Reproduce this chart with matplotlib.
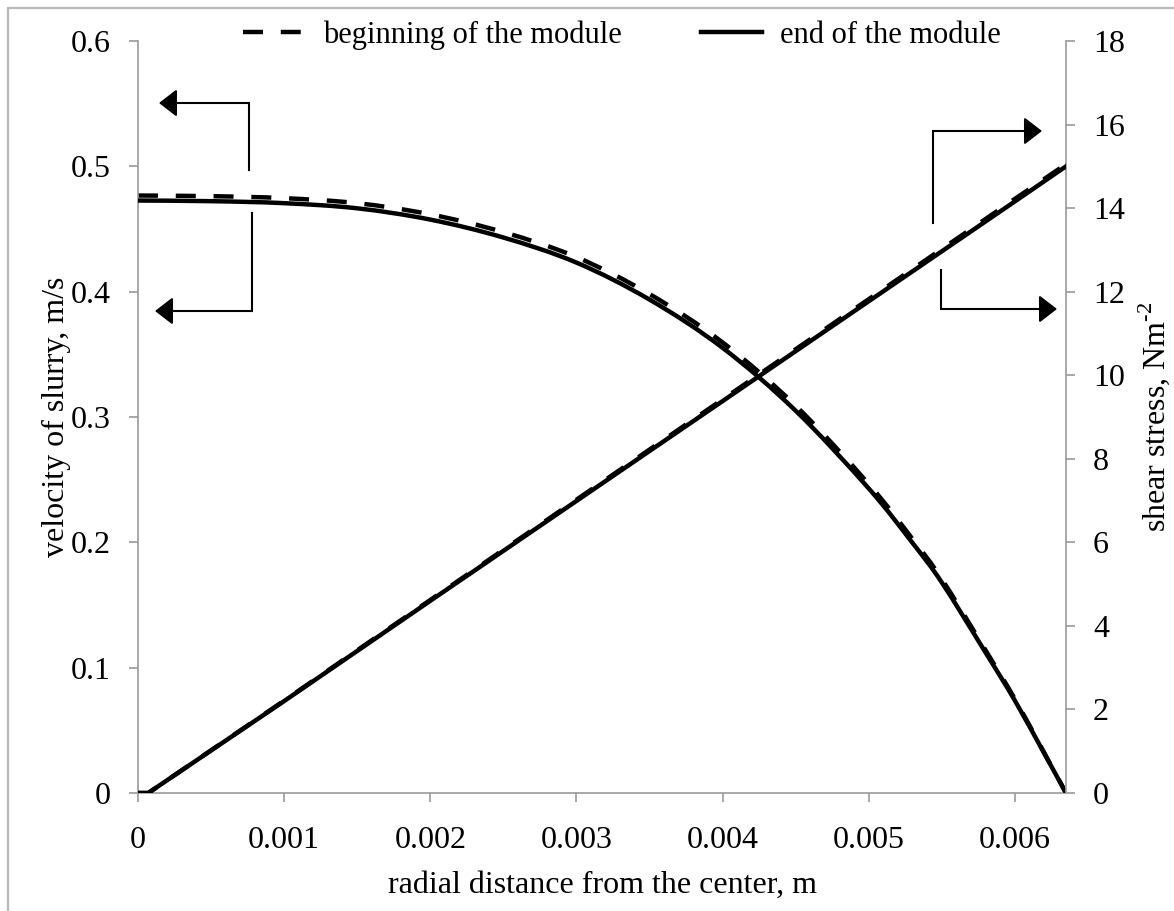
import matplotlib
matplotlib.use("Agg")
import matplotlib.pyplot as plt
from matplotlib.lines import Line2D
from matplotlib.patches import Rectangle, PathPatch
from matplotlib.path import Path

plt.rcParams['font.family'] = ['Liberation Serif', 'DejaVu Serif']
plt.rcParams['mathtext.fontset'] = 'custom'
plt.rcParams['mathtext.rm'] = 'Liberation Serif'

# ---- data ----------------------------------------------------------------
r_vel = [0, 0.0005, 0.001, 0.0015, 0.002, 0.0025, 0.003, 0.0035, 0.004,
         0.0045, 0.005, 0.0053, 0.0055, 0.0058, 0.006, 0.0062, 0.00635]
vel_begin = [0.4767, 0.4762, 0.4746, 0.4706, 0.4617, 0.4475, 0.4276, 0.3981,
             0.3595, 0.3090, 0.2465, 0.2026, 0.1707, 0.1138, 0.0750, 0.0323, 0.0]
vel_end = [0.4727, 0.4722, 0.4706, 0.4665, 0.4575, 0.4432, 0.4232, 0.3937,
           0.3552, 0.3050, 0.2430, 0.1995, 0.1680, 0.1120, 0.0738, 0.0318, 0.0]

r_tau = [0, 0.00007, 0.001, 0.002, 0.003, 0.004, 0.005, 0.006, 0.00635]
tau_begin = [0, 0, 2.21, 4.62, 7.02, 9.42, 11.82, 14.22, 15.05]
tau_end = [0, 0, 2.20, 4.60, 6.99, 9.38, 11.77, 14.16, 15.00]

x_ticks = [0, 0.001, 0.002, 0.003, 0.004, 0.005, 0.006]
x_tick_labels = ['0', '0.001', '0.002', '0.003', '0.004', '0.005', '0.006']
vel_ticks = [0, 0.1, 0.2, 0.3, 0.4, 0.5, 0.6]
vel_tick_labels = ['0', '0.1', '0.2', '0.3', '0.4', '0.5', '0.6']
tau_ticks = [0, 2, 4, 6, 8, 10, 12, 14, 16, 18]

legend_labels = ['beginning of the module', 'end of the module']


def smooth_path(xs, ys):
    """Smoothed line through the points (Catmull-Rom as cubic Beziers)."""
    pts = list(zip(xs, ys))
    n = len(pts)
    verts = [pts[0]]
    codes = [Path.MOVETO]
    for i in range(n - 1):
        p0 = pts[i - 1] if i > 0 else pts[i]
        p1, p2 = pts[i], pts[i + 1]
        p3 = pts[i + 2] if i + 2 < n else pts[i + 1]
        c1 = (p1[0] + (p2[0] - p0[0]) / 6, p1[1] + (p2[1] - p0[1]) / 6)
        c2 = (p2[0] - (p3[0] - p1[0]) / 6, p2[1] - (p3[1] - p1[1]) / 6)
        verts += [c1, c2, p2]
        codes += [Path.CURVE4] * 3
    return Path(verts, codes)


# ---- figure ----------------------------------------------------------------
W, H = 1174, 911
fig = plt.figure(figsize=(W / 100, H / 100), dpi=100)

# light grey frame around the chart area
fig.add_artist(Rectangle((8 / W, -0.01), 1.02, 1 - 8 / H + 0.01,
                         transform=fig.transFigure, fill=False,
                         edgecolor='#b8b8b8', linewidth=1.6))

L, R, T, B = 138, 1066, 41, 793
ax = fig.add_axes([L / W, 1 - B / H, (R - L) / W, (B - T) / H])
ax2 = ax.twinx()

axis_grey = '#9a9a9a'
FS = 23

lw = 3.2
dash = (4.5, 4.0)

# velocity profiles (left axis)
ax.add_patch(PathPatch(smooth_path(r_vel, vel_begin), fill=False,
                       edgecolor='black', lw=lw, linestyle=(0, dash),
                       capstyle='butt', zorder=2))
ax.add_patch(PathPatch(smooth_path(r_vel, vel_end), fill=False,
                       edgecolor='black', lw=lw, zorder=3))

# shear stress (right axis)
ax2.plot(r_tau, tau_begin, color='black', lw=lw, dashes=dash, zorder=2)
ax2.plot(r_tau, tau_end, color='black', lw=lw, zorder=3)

ax.set_xlim(0, 0.00635)
ax.set_ylim(0, 0.6)
ax2.set_ylim(0, 18)

ax.set_xticks(x_ticks)
ax.set_xticklabels(x_tick_labels)
ax.set_yticks(vel_ticks)
ax.set_yticklabels(vel_tick_labels)
ax2.set_yticks(tau_ticks)
ax2.set_yticklabels([str(t) for t in tau_ticks])

for a in (ax, ax2):
    a.spines['top'].set_visible(False)
    a.set_facecolor('none')
ax.spines['right'].set_visible(False)
ax2.spines['left'].set_visible(False)
ax2.spines['bottom'].set_visible(False)
for s in ('left', 'bottom'):
    ax.spines[s].set_color(axis_grey)
    ax.spines[s].set_linewidth(1.2)
ax2.spines['right'].set_color(axis_grey)
ax2.spines['right'].set_linewidth(1.2)

tick_kw = dict(direction='out', length=6.5, width=1.2, color=axis_grey,
               labelcolor='black', labelsize=FS)
ax.tick_params(axis='y', pad=13, **tick_kw)
ax.tick_params(axis='x', pad=17, **tick_kw)
ax2.tick_params(axis='y', pad=13, **tick_kw)

ax.set_xlabel('radial distance from the center, m', fontsize=FS, labelpad=12)
ax.set_ylabel('velocity of slurry, m/s', fontsize=FS, labelpad=0)
ax2.set_ylabel(r'shear stress, Nm$^{\text{-2}}$', fontsize=FS, labelpad=8)

handles = [Line2D([], [], color='black', lw=lw, dashes=dash),
           Line2D([], [], color='black', lw=lw)]
ax.legend(handles, legend_labels, loc='center', ncol=2,
          bbox_to_anchor=(0.530, 1 - 35 / H), bbox_transform=fig.transFigure,
          frameon=False, fontsize=22, handlelength=2.0, handletextpad=0.6,
          columnspacing=2.6, borderpad=0, borderaxespad=0)


# ---- bent pointer arrows that tie each curve pair to its axis --------------
def fp(x, y):
    return (x / W, 1 - y / H)


def bent_arrow(x_stem, y_from, y_corner, x_tip):
    fig.add_artist(Line2D([x_stem / W, x_stem / W],
                          [1 - y_from / H, 1 - y_corner / H],
                          transform=fig.transFigure, color='black', lw=1.5))
    ax.annotate('', xy=fp(x_tip, y_corner), xycoords='figure fraction',
                xytext=fp(x_stem, y_corner), textcoords='figure fraction',
                arrowprops=dict(arrowstyle='-|>,head_length=11,head_width=8.5',
                                mutation_scale=1, color='black', lw=1.5,
                                shrinkA=0, shrinkB=0))


bent_arrow(249, 170, 103, 159)
bent_arrow(252, 213, 311, 155)
bent_arrow(933, 223, 131, 1042)
bent_arrow(941, 270, 309, 1057)

fig.savefig('out.png', dpi=100)
